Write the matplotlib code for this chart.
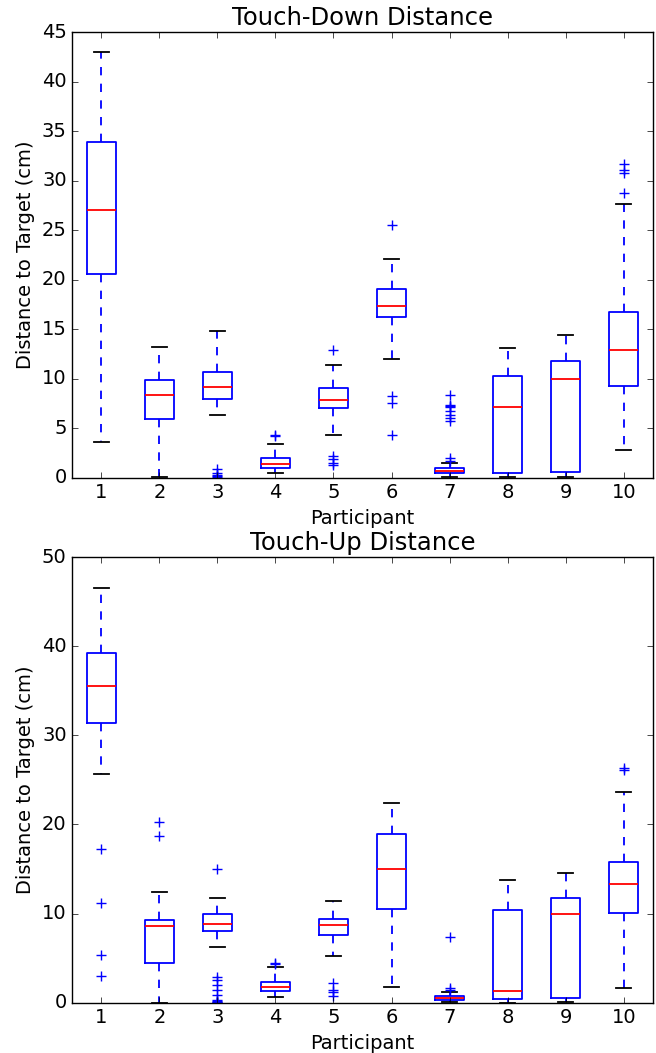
import numpy as np
import matplotlib
matplotlib.use("Agg")
from matplotlib import pyplot as plt

plt.style.use('classic')

participants = ['1', '2', '3', '4', '5', '6', '7', '8', '9', '10']

# touch-down distance (cm)
down_lo  = [3.6, 0.1, 6.3, 0.45, 4.3, 12.0, 0.05, 0.05, 0.1, 2.8]
down_q1  = [20.6, 5.9, 8.0, 1.0, 7.0, 16.2, 0.45, 0.45, 0.6, 9.3]
down_med = [27.1, 8.4, 9.2, 1.4, 7.9, 17.4, 0.7, 7.1, 9.95, 12.9]
down_q3  = [33.9, 9.9, 10.7, 2.0, 9.1, 19.1, 1.0, 10.25, 11.8, 16.7]
down_hi  = [43.0, 13.2, 14.85, 3.45, 11.35, 22.1, 1.45, 13.1, 14.4, 27.7]
down_fl  = [[], [],
            [0.85, 0.5, 0.3, 0.2, 0.1],
            [4.3, 4.2],
            [12.9, 2.2, 1.85, 1.5, 1.25],
            [25.5, 8.25, 7.6, 4.3],
            [8.35, 7.3, 7.2, 7.1, 6.7, 6.35, 6.0, 5.7, 1.95, 1.7],
            [], [],
            [31.65, 31.1, 30.8, 28.8]]

# touch-up distance (cm)
up_lo  = [25.7, 0.0, 6.2, 0.6, 5.25, 1.75, 0.03, 0.0, 0.03, 1.65]
up_q1  = [31.4, 4.45, 8.0, 1.3, 7.55, 10.55, 0.3, 0.4, 0.5, 10.05]
up_med = [35.5, 8.6, 8.85, 1.75, 8.75, 15.05, 0.5, 1.3, 9.95, 13.3]
up_q3  = [39.2, 9.3, 9.9, 2.35, 9.4, 18.9, 0.75, 10.4, 11.8, 15.75]
up_hi  = [46.55, 12.45, 11.8, 3.95, 11.4, 22.4, 1.2, 13.8, 14.55, 23.6]
up_fl  = [[17.3, 11.2, 5.4, 3.0],
          [20.25, 18.7],
          [15.05, 2.85, 2.5, 2.0, 1.45, 0.85, 0.35, 0.2, 0.1, 0.05, 0.0],
          [4.45, 4.3],
          [2.2, 1.45, 1.25, 0.75],
          [],
          [7.4, 1.6, 1.45],
          [], [],
          [26.3, 26.1]]


def make_stats(lo, q1, med, q3, hi, fl):
    stats = []
    for i in range(len(participants)):
        stats.append({'label': participants[i], 'whislo': lo[i], 'q1': q1[i],
                      'med': med[i], 'q3': q3[i], 'whishi': hi[i],
                      'fliers': np.array(fl[i])})
    return stats


def draw(ax, stats):
    ax.bxp(stats,
           boxprops=dict(color='b', linewidth=1.3),
           whiskerprops=dict(color='b', linestyle='--', linewidth=1.3),
           capprops=dict(color='k', linewidth=1.3),
           medianprops=dict(color='r', linewidth=1.3),
           flierprops=dict(marker='+', markeredgecolor='b', markersize=7,
                           markeredgewidth=1.0, linestyle='none'))


fig = plt.figure(figsize=(6.56, 10.53), dpi=100, facecolor='white')

ax1 = fig.add_axes([0.1102, 0.5463, 0.8848, 0.4230])
draw(ax1, make_stats(down_lo, down_q1, down_med, down_q3, down_hi, down_fl))
ax1.set_ylim(0, 45)
ax1.set_xlim(0.5, 10.5)
ax1.set_yticks(np.arange(0, 46, 5))
ax1.set_title('Touch-Down Distance', fontsize=17.5)
ax1.set_xlabel('Participant', fontsize=14)
ax1.set_ylabel('Distance to Target (cm)', fontsize=14)

ax2 = fig.add_axes([0.1102, 0.0478, 0.8848, 0.4230])
draw(ax2, make_stats(up_lo, up_q1, up_med, up_q3, up_hi, up_fl))
ax2.set_ylim(0, 50)
ax2.set_xlim(0.5, 10.5)
ax2.set_yticks(np.arange(0, 51, 10))
ax2.set_title('Touch-Up Distance', fontsize=17.5)
ax2.set_xlabel('Participant', fontsize=14)
ax2.set_ylabel('Distance to Target (cm)', fontsize=14)

for ax in (ax1, ax2):
    ax.tick_params(labelsize=14)

fig.savefig('out.png', dpi=100, facecolor='white')
